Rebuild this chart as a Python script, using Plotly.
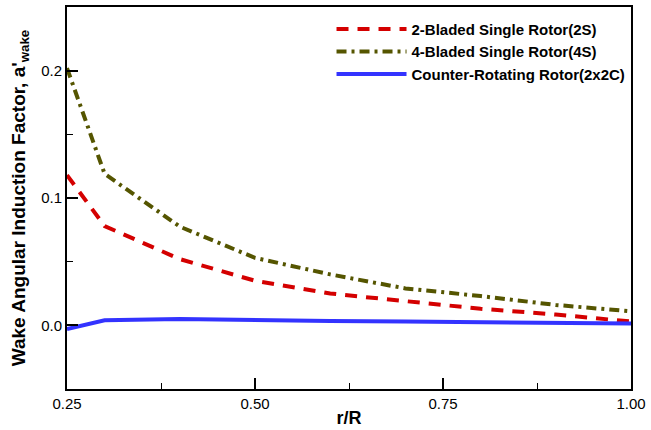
import plotly.graph_objects as go

# r/R stations
r_R = [0.25, 0.30, 0.40, 0.50, 0.60, 0.70, 0.80, 0.90, 1.00]

# wake angular induction factor a'_wake
a_2S = [0.118, 0.078, 0.052, 0.035, 0.025, 0.019, 0.013, 0.0085, 0.003]
a_4S = [0.202, 0.119, 0.0775, 0.053, 0.040, 0.029, 0.023, 0.016, 0.011]
a_2x2C = [-0.003, 0.004, 0.005, 0.004, 0.0035, 0.003, 0.0025, 0.002, 0.0015]

x_ticks = [0.25, 0.50, 0.75, 1.00]
x_ticklabels = ["0.25", "0.50", "0.75", "1.00"]
y_ticks = [0.0, 0.1, 0.2]
y_ticklabels = ["0.0", "0.1", "0.2"]

font_family = "Arial, Liberation Sans, sans-serif"

fig = go.Figure()
fig.add_trace(go.Scatter(x=r_R, y=a_2S, mode="lines", name="2-Bladed Single Rotor(2S)",
                         line=dict(color="#d40000", width=4, dash="12px,9px")))
fig.add_trace(go.Scatter(x=r_R, y=a_4S, mode="lines", name="4-Bladed Single Rotor(4S)",
                         line=dict(color="#555500", width=4, dash="10px,5px,3px,5px")))
fig.add_trace(go.Scatter(x=r_R, y=a_2x2C, mode="lines", name="Counter-Rotating Rotor(2x2C)",
                         line=dict(color="#3333ff", width=4)))

fig.update_layout(
    width=651, height=430,
    margin=dict(l=67, r=17, t=5, b=38),
    paper_bgcolor="white", plot_bgcolor="white",
    font=dict(family=font_family, size=15, color="black"),
    showlegend=True,
    legend=dict(x=0.469, y=0.985, xanchor="left", yanchor="top",
                itemwidth=70,
                bgcolor="rgba(0,0,0,0)", borderwidth=0,
                font=dict(family=font_family, size=15, weight="bold")),
    xaxis=dict(
        range=[0.25, 1.0], tickvals=x_ticks, ticktext=x_ticklabels,
        ticks="inside", ticklen=11, tickwidth=1.5, tickcolor="black",
        showline=True, linecolor="black", linewidth=2, mirror=True,
        showgrid=False, zeroline=False,
        minor=dict(dtick=0.125, tick0=0.25, ticks="inside", ticklen=6, tickwidth=1.2, tickcolor="black"),
        title=dict(text="r/R", font=dict(family=font_family, size=18, weight="bold"), standoff=0),
    ),
    yaxis=dict(
        range=[-0.05, 0.25], tickvals=y_ticks, ticktext=y_ticklabels,
        ticks="inside", ticklen=11, tickwidth=1.5, tickcolor="black",
        showline=True, linecolor="black", linewidth=2, mirror=True,
        showgrid=False, zeroline=False,
        minor=dict(dtick=0.05, tick0=0.0, ticks="inside", ticklen=6, tickwidth=1.2, tickcolor="black"),
        title=dict(text="Wake Angular Induction Factor, a'<sub>wake</sub>",
                   font=dict(family=font_family, size=19, weight="bold"), standoff=10),
    ),
)

# drop the default page margin so the figure sits at the window's corner
fig.write_html("out.html", config={"displayModeBar": False},
               post_script="document.body.style.margin='0';")
